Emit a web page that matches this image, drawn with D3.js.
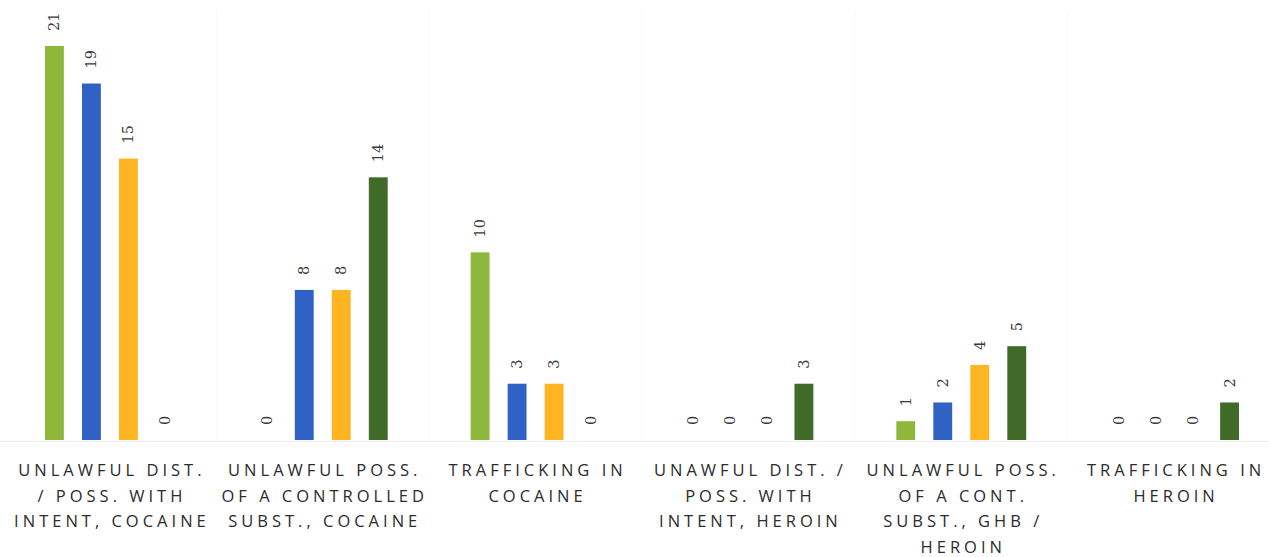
<!DOCTYPE html>
<html><head><meta charset="utf-8">
<script src="https://cdn.jsdelivr.net/npm/d3@7"></script>
<style>body{margin:0;background:#fff}svg{display:block}</style>
</head><body><svg id="c" width="1269" height="557"></svg>
<script>
const categories = ["c0","c1","c2","c3","c4","c5"];
const categoryLabels = [
  ["UNLAWFUL DIST.","/ POSS. WITH","INTENT, COCAINE"],
  ["UNLAWFUL POSS.","OF A CONTROLLED","SUBST., COCAINE"],
  ["TRAFFICKING IN","COCAINE"],
  ["UNAWFUL DIST. /","POSS. WITH","INTENT, HEROIN"],
  ["UNLAWFUL POSS.","OF A CONT.","SUBST., GHB /","HEROIN"],
  ["TRAFFICKING IN","HEROIN"]
];
const seriesNames = ["s1","s2","s3","s4"];
const s1 = [21,0,10,0,1,0];
const s2 = [19,8,3,0,2,0];
const s3 = [15,8,3,0,4,0];
const s4 = [0,14,0,3,5,2];
const seriesValues = [s1,s2,s3,s4];
const colors = ["#8DB83B","#2F62C4","#FFB522","#3F6A27"];

const svg = d3.select("#c");
const plotLeft = 3.5, plotRight = 1280.5, base = 440, plotTop = 46;
const x = d3.scaleBand().domain(categories).range([plotLeft,plotRight]).paddingInner(0).paddingOuter(0);
const xs = d3.scaleBand().domain(seriesNames).range([x.bandwidth()/2-74, x.bandwidth()/2+74]).paddingInner(0.49).paddingOuter(0.245);
const y = d3.scaleLinear().domain([0,21]).range([base, plotTop]);

// faint separators
svg.append("g").selectAll("line").data(categories.slice(1)).join("line")
  .attr("x1",d=>x(d)).attr("x2",d=>x(d)).attr("y1",10).attr("y2",base)
  .attr("stroke","#f8f8f8").attr("stroke-width",1);
svg.append("line").attr("x1",0).attr("x2",1269).attr("y1",base+1.5).attr("y2",base+1.5)
  .attr("stroke","#f0f0f0").attr("stroke-width",1.5);

const data = [];
categories.forEach((c,i)=>seriesNames.forEach((s,j)=>data.push({c,s,v:seriesValues[j][i],j})));

const g = svg.append("g");
g.selectAll("rect").data(data.filter(d=>d.v>0)).join("rect")
  .attr("x",d=>x(d.c)+xs(d.s)).attr("width",xs.bandwidth())
  .attr("y",d=>y(d.v)).attr("height",d=>base-y(d.v))
  .attr("fill",d=>colors[d.j]);

g.selectAll("text.v").data(data).join("text").attr("class","v")
  .attr("transform",d=>`translate(${x(d.c)+xs(d.s)+xs.bandwidth()/2},${y(d.v)-15}) rotate(-90)`)
  .attr("dy","0.35em")
  .attr("font-family","DejaVu Serif, serif").attr("font-size",14.5)
  .attr("fill","#3a3a3a")
  .text(d=>d.v);

const lab = svg.append("g");
categories.forEach((c,i)=>{
  const t = lab.append("text")
    .attr("x",x(c)+x.bandwidth()/2).attr("text-anchor","middle")
    .attr("font-family","Open Sans, sans-serif").attr("font-size",16.5)
    .attr("letter-spacing","4px").attr("fill","#2b2b2b");
  categoryLabels[i].forEach((line,k)=>{
    t.append("tspan").attr("x",x(c)+x.bandwidth()/2+2).attr("y",476+k*25.7).text(line);
  });
});
</script></body></html>
